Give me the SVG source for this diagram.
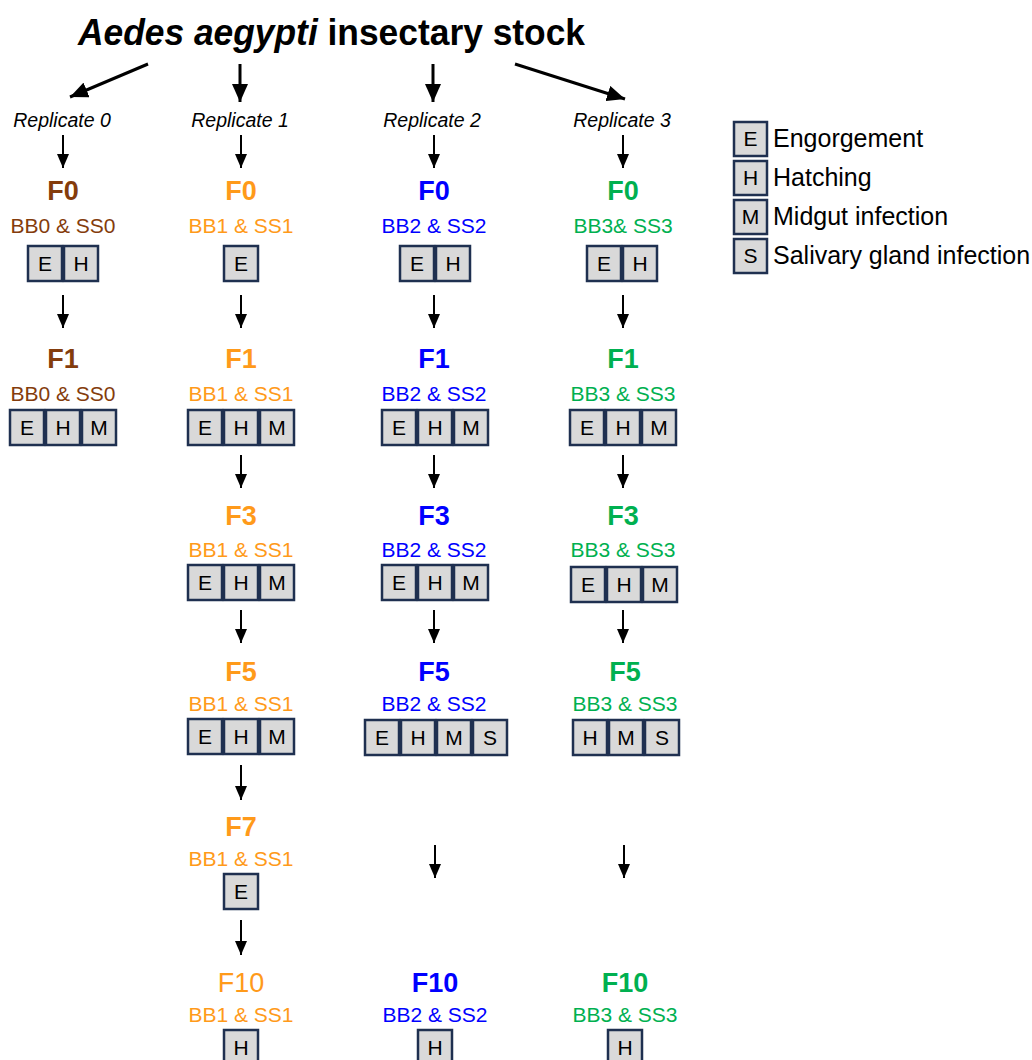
<svg xmlns="http://www.w3.org/2000/svg" width="1032" height="1060" viewBox="0 0 1032 1060">
<style>
text{font-family:"Liberation Sans",Arial,sans-serif}
.title{font-size:36px;font-weight:bold;fill:#000}
.rep{font-size:19.5px;font-style:italic;fill:#000;text-anchor:middle}
.gen{font-size:27px;font-weight:bold;text-anchor:middle}
.bb{font-size:21px;text-anchor:middle}
.box{fill:#d9d9d9;stroke:#1f3050;stroke-width:2.5}
.bl{font-size:21px;fill:#000;text-anchor:middle}
.leg{font-size:25px;fill:#000}
.c0{fill:#843c0c}.c1{fill:#ff9a1a}.c2{fill:#0000ff}.c3{fill:#00b050}
.arr{stroke:#000;stroke-width:2;fill:none;marker-end:url(#ah)}
.arrT{stroke:#000;stroke-width:3;fill:none;marker-end:url(#ahT)}
</style>
<defs>
<marker id="ah" markerUnits="userSpaceOnUse" markerWidth="14" markerHeight="12" refX="14" refY="6" orient="auto"><path d="M0,0 L14,6 L0,12 z" fill="#000"/></marker>
<marker id="ahT" markerUnits="userSpaceOnUse" markerWidth="18" markerHeight="16" refX="18" refY="8" orient="auto"><path d="M0,0 L18,8 L0,16 z" fill="#000"/></marker>
</defs>
<rect width="1032" height="1060" fill="#fff"/>
<g id="title">
<text class="title" x="78" y="45" textLength="507" lengthAdjust="spacingAndGlyphs"><tspan font-style="italic">Aedes aegypti</tspan> insectary stock</text>
</g>
<g id="replicates">
<text class="rep" x="62" y="127">Replicate 0</text>
<text class="rep" x="240" y="127">Replicate 1</text>
<text class="rep" x="432" y="127">Replicate 2</text>
<text class="rep" x="622" y="127">Replicate 3</text>
</g>
<g id="connectors">
<line class="arrT" x1="148" y1="64" x2="70" y2="97"/>
<line class="arrT" x1="240" y1="64" x2="240" y2="102"/>
<line class="arrT" x1="433" y1="64" x2="433" y2="102"/>
<line class="arrT" x1="515" y1="64" x2="625" y2="99"/>
<line class="arr" x1="63" y1="135" x2="63" y2="168"/>
<line class="arr" x1="63" y1="295" x2="63" y2="328"/>
<line class="arr" x1="241" y1="135" x2="241" y2="168"/>
<line class="arr" x1="241" y1="295" x2="241" y2="328"/>
<line class="arr" x1="241" y1="455" x2="241" y2="488"/>
<line class="arr" x1="241" y1="610" x2="241" y2="643"/>
<line class="arr" x1="241" y1="765" x2="241" y2="800"/>
<line class="arr" x1="241" y1="920" x2="241" y2="955"/>
<line class="arr" x1="434" y1="135" x2="434" y2="168"/>
<line class="arr" x1="434" y1="295" x2="434" y2="328"/>
<line class="arr" x1="434" y1="455" x2="434" y2="488"/>
<line class="arr" x1="434" y1="610" x2="434" y2="643"/>
<line class="arr" x1="435" y1="845" x2="435" y2="878"/>
<line class="arr" x1="623" y1="135" x2="623" y2="168"/>
<line class="arr" x1="623" y1="295" x2="623" y2="328"/>
<line class="arr" x1="623" y1="455" x2="623" y2="488"/>
<line class="arr" x1="623" y1="610" x2="623" y2="643"/>
<line class="arr" x1="624" y1="845" x2="624" y2="878"/>
</g>
<g id="r0-F0">
<text class="gen c0" x="63" y="200">F0</text>
<text class="bb c0" x="63" y="233">BB0 &amp; SS0</text>
<rect class="box" x="28" y="246" width="34" height="35"/><text class="bl" x="45" y="271">E</text>
<rect class="box" x="64" y="246" width="34" height="35"/><text class="bl" x="81" y="271">H</text>
</g>
<g id="r0-F1">
<text class="gen c0" x="63" y="368">F1</text>
<text class="bb c0" x="63" y="401">BB0 &amp; SS0</text>
<rect class="box" x="10" y="410" width="34" height="35"/><text class="bl" x="27" y="435">E</text>
<rect class="box" x="46" y="410" width="34" height="35"/><text class="bl" x="63" y="435">H</text>
<rect class="box" x="82" y="410" width="34" height="35"/><text class="bl" x="99" y="435">M</text>
</g>
<g id="r1-F0">
<text class="gen c1" x="241" y="200">F0</text>
<text class="bb c1" x="241" y="233">BB1 &amp; SS1</text>
<rect class="box" x="224" y="246" width="34" height="35"/><text class="bl" x="241" y="271">E</text>
</g>
<g id="r1-F1">
<text class="gen c1" x="241" y="368">F1</text>
<text class="bb c1" x="241" y="401">BB1 &amp; SS1</text>
<rect class="box" x="188" y="410" width="34" height="35"/><text class="bl" x="205" y="435">E</text>
<rect class="box" x="224" y="410" width="34" height="35"/><text class="bl" x="241" y="435">H</text>
<rect class="box" x="260" y="410" width="34" height="35"/><text class="bl" x="277" y="435">M</text>
</g>
<g id="r1-F3">
<text class="gen c1" x="241" y="525">F3</text>
<text class="bb c1" x="241" y="557">BB1 &amp; SS1</text>
<rect class="box" x="188" y="565" width="34" height="35"/><text class="bl" x="205" y="590">E</text>
<rect class="box" x="224" y="565" width="34" height="35"/><text class="bl" x="241" y="590">H</text>
<rect class="box" x="260" y="565" width="34" height="35"/><text class="bl" x="277" y="590">M</text>
</g>
<g id="r1-F5">
<text class="gen c1" x="241" y="681">F5</text>
<text class="bb c1" x="241" y="711">BB1 &amp; SS1</text>
<rect class="box" x="188" y="719" width="34" height="35"/><text class="bl" x="205" y="744">E</text>
<rect class="box" x="224" y="719" width="34" height="35"/><text class="bl" x="241" y="744">H</text>
<rect class="box" x="260" y="719" width="34" height="35"/><text class="bl" x="277" y="744">M</text>
</g>
<g id="r1-F7">
<text class="gen c1" x="241" y="836">F7</text>
<text class="bb c1" x="241" y="866">BB1 &amp; SS1</text>
<rect class="box" x="224" y="874" width="34" height="35"/><text class="bl" x="241" y="899">E</text>
</g>
<g id="r1-F10">
<text class="gen c1" x="241" y="992" style="font-weight:normal">F10</text>
<text class="bb c1" x="241" y="1022">BB1 &amp; SS1</text>
<rect class="box" x="224" y="1030" width="34" height="35"/><text class="bl" x="241" y="1055">H</text>
</g>
<g id="r2-F0">
<text class="gen c2" x="434" y="200">F0</text>
<text class="bb c2" x="434" y="233">BB2 &amp; SS2</text>
<rect class="box" x="400" y="246" width="34" height="35"/><text class="bl" x="417" y="271">E</text>
<rect class="box" x="436" y="246" width="34" height="35"/><text class="bl" x="453" y="271">H</text>
</g>
<g id="r2-F1">
<text class="gen c2" x="434" y="368">F1</text>
<text class="bb c2" x="434" y="401">BB2 &amp; SS2</text>
<rect class="box" x="382" y="410" width="34" height="35"/><text class="bl" x="399" y="435">E</text>
<rect class="box" x="418" y="410" width="34" height="35"/><text class="bl" x="435" y="435">H</text>
<rect class="box" x="454" y="410" width="34" height="35"/><text class="bl" x="471" y="435">M</text>
</g>
<g id="r2-F3">
<text class="gen c2" x="434" y="525">F3</text>
<text class="bb c2" x="434" y="557">BB2 &amp; SS2</text>
<rect class="box" x="382" y="565" width="34" height="35"/><text class="bl" x="399" y="590">E</text>
<rect class="box" x="418" y="565" width="34" height="35"/><text class="bl" x="435" y="590">H</text>
<rect class="box" x="454" y="565" width="34" height="35"/><text class="bl" x="471" y="590">M</text>
</g>
<g id="r2-F5">
<text class="gen c2" x="434" y="681">F5</text>
<text class="bb c2" x="434" y="711">BB2 &amp; SS2</text>
<rect class="box" x="365" y="720" width="34" height="35"/><text class="bl" x="382" y="745">E</text>
<rect class="box" x="401" y="720" width="34" height="35"/><text class="bl" x="418" y="745">H</text>
<rect class="box" x="437" y="720" width="34" height="35"/><text class="bl" x="454" y="745">M</text>
<rect class="box" x="473" y="720" width="34" height="35"/><text class="bl" x="490" y="745">S</text>
</g>
<g id="r2-F10">
<text class="gen c2" x="435" y="992">F10</text>
<text class="bb c2" x="435" y="1022">BB2 &amp; SS2</text>
<rect class="box" x="418" y="1030" width="34" height="35"/><text class="bl" x="435" y="1055">H</text>
</g>
<g id="r3-F0">
<text class="gen c3" x="623" y="200">F0</text>
<text class="bb c3" x="623" y="233">BB3&amp; SS3</text>
<rect class="box" x="587" y="246" width="34" height="35"/><text class="bl" x="604" y="271">E</text>
<rect class="box" x="623" y="246" width="34" height="35"/><text class="bl" x="640" y="271">H</text>
</g>
<g id="r3-F1">
<text class="gen c3" x="623" y="368">F1</text>
<text class="bb c3" x="623" y="401">BB3 &amp; SS3</text>
<rect class="box" x="570" y="410" width="34" height="35"/><text class="bl" x="587" y="435">E</text>
<rect class="box" x="606" y="410" width="34" height="35"/><text class="bl" x="623" y="435">H</text>
<rect class="box" x="642" y="410" width="34" height="35"/><text class="bl" x="659" y="435">M</text>
</g>
<g id="r3-F3">
<text class="gen c3" x="623" y="525">F3</text>
<text class="bb c3" x="623" y="557">BB3 &amp; SS3</text>
<rect class="box" x="571" y="567" width="34" height="35"/><text class="bl" x="588" y="592">E</text>
<rect class="box" x="607" y="567" width="34" height="35"/><text class="bl" x="624" y="592">H</text>
<rect class="box" x="643" y="567" width="34" height="35"/><text class="bl" x="660" y="592">M</text>
</g>
<g id="r3-F5">
<text class="gen c3" x="625" y="681">F5</text>
<text class="bb c3" x="625" y="711">BB3 &amp; SS3</text>
<rect class="box" x="573" y="720" width="34" height="35"/><text class="bl" x="590" y="745">H</text>
<rect class="box" x="609" y="720" width="34" height="35"/><text class="bl" x="626" y="745">M</text>
<rect class="box" x="645" y="720" width="34" height="35"/><text class="bl" x="662" y="745">S</text>
</g>
<g id="r3-F10">
<text class="gen c3" x="625" y="992">F10</text>
<text class="bb c3" x="625" y="1022">BB3 &amp; SS3</text>
<rect class="box" x="608" y="1030" width="34" height="35"/><text class="bl" x="625" y="1055">H</text>
</g>
<g id="legend">
<rect class="box" x="734" y="122" width="33" height="34"/><text class="bl" x="750.5" y="146">E</text>
<text class="leg" x="773" y="147">Engorgement</text>
<rect class="box" x="734" y="161" width="33" height="34"/><text class="bl" x="750.5" y="185">H</text>
<text class="leg" x="773" y="186">Hatching</text>
<rect class="box" x="734" y="200" width="33" height="34"/><text class="bl" x="750.5" y="224">M</text>
<text class="leg" x="773" y="225">Midgut infection</text>
<rect class="box" x="734" y="239" width="33" height="34"/><text class="bl" x="750.5" y="263">S</text>
<text class="leg" x="773" y="264">Salivary gland infection</text>
</g>
</svg>
